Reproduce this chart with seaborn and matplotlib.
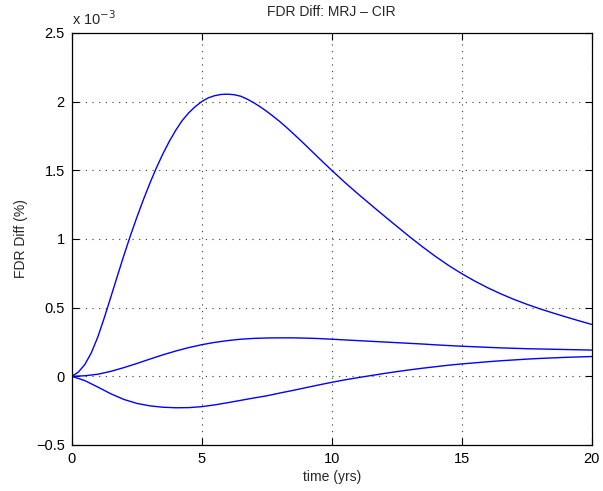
import numpy as np
import pandas as pd
import matplotlib
matplotlib.use("Agg")
import matplotlib.pyplot as plt
import seaborn as sns

# time grids (years)
t_upper = [i * 0.25 for i in range(41)] + [10 + i * 0.5 for i in range(1, 21)]
t = [i * 0.5 for i in range(41)]

# FDR differences, in units of 1e-3 (%)
upper = [0.0, 0.03, 0.085, 0.17, 0.285, 0.425, 0.575, 0.727, 0.877, 1.02,
         1.155, 1.283, 1.403, 1.515, 1.617, 1.709, 1.791, 1.862, 1.918, 1.963,
         2.0, 2.027, 2.043, 2.052, 2.054, 2.05, 2.039, 2.018, 1.992, 1.962,
         1.929, 1.893, 1.855, 1.814, 1.771, 1.727, 1.682, 1.636, 1.59, 1.545,
         1.50,
         1.413, 1.33, 1.25, 1.171, 1.093, 1.016, 0.942, 0.872, 0.807, 0.748,
         0.694, 0.645, 0.601, 0.561, 0.525, 0.492, 0.462, 0.433, 0.405, 0.378]
middle = [0.0, 0.004, 0.015, 0.036, 0.063, 0.093, 0.125, 0.156, 0.184, 0.209,
          0.23, 0.247, 0.26, 0.27, 0.276, 0.279, 0.28, 0.28, 0.278, 0.275,
          0.27, 0.265, 0.26, 0.255, 0.25, 0.245, 0.24, 0.235, 0.229, 0.224,
          0.219, 0.215, 0.211, 0.207, 0.204, 0.201, 0.199, 0.197, 0.195, 0.193, 0.191]
lower = [0.0, -0.031, -0.078, -0.127, -0.168, -0.197, -0.215, -0.225, -0.229, -0.228,
         -0.221, -0.208, -0.192, -0.175, -0.158, -0.142, -0.122, -0.103, -0.083, -0.063,
         -0.044, -0.026, -0.01, 0.005, 0.02, 0.034, 0.047, 0.059, 0.07, 0.081,
         0.09, 0.098, 0.106, 0.113, 0.119, 0.125, 0.13, 0.134, 0.138, 0.141, 0.144]

xticks = [0, 5, 10, 15, 20]
yticks = [-0.5, 0, 0.5, 1, 1.5, 2, 2.5]
ytick_labels = ["\u22120.5", "0", "0.5", "1", "1.5", "2", "2.5"]

sns.set_style("white")
plt.rcParams["font.family"] = ["Liberation Sans", "DejaVu Sans"]

fig = plt.figure(figsize=(6.03, 4.91), dpi=100)
ax = fig.add_axes([0.119, 0.0937, 0.862, 0.8393])

for tt, series in ((t_upper, upper), (t, middle), (t, lower)):
    df = pd.DataFrame({"t": tt, "v": series})
    sns.lineplot(data=df, x="t", y="v", ax=ax, color="#0000ff", linewidth=1.0)

ax.set_xlim(0, 20)
ax.set_ylim(-0.5, 2.5)
ax.set_xticks(xticks)
ax.set_xticklabels([str(v) for v in xticks], fontsize=10.5)
ax.set_yticks(yticks)
ax.set_yticklabels(ytick_labels, fontsize=10.5)

ax.grid(True, linestyle=(0, (1, 5)), color="#333333", linewidth=0.8)
for s in ax.spines.values():
    s.set_visible(True)
    s.set_color("black")
    s.set_linewidth(0.9)
ax.tick_params(direction="in", length=5, width=0.8, top=True, right=True,
               bottom=True, left=True, colors="black", pad=5)

ax.set_title("FDR Diff: MRJ \u2013 CIR", fontsize=10, pad=12)
ax.set_xlabel("time (yrs)", fontsize=10, labelpad=3)
ax.set_ylabel("FDR Diff (%)", fontsize=10, labelpad=6)
ax.text(0.0, 1.012, r"x 10$^{-3}$", transform=ax.transAxes, fontsize=10.5,
        ha="left", va="bottom")

fig.savefig("out.png", dpi=100)
